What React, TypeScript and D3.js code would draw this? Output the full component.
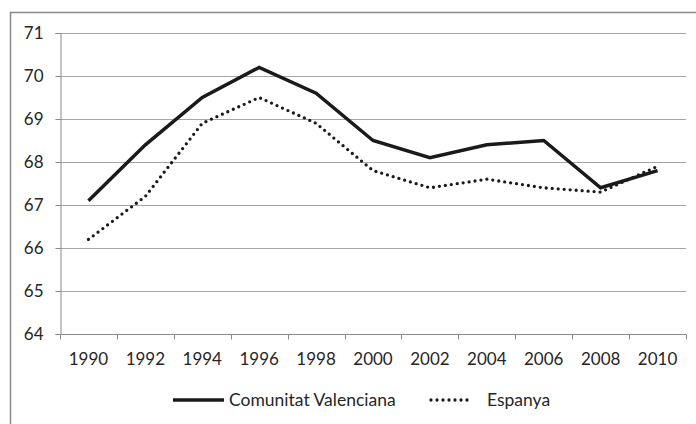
import React from "react";
import * as d3 from "d3";

const years = ["1990", "1992", "1994", "1996", "1998", "2000", "2002", "2004", "2006", "2008", "2010"];
const valenciana = [67.1, 68.4, 69.5, 70.2, 69.6, 68.5, 68.1, 68.4, 68.5, 67.4, 67.8];
const espanya = [66.2, 67.2, 68.9, 69.5, 68.9, 67.8, 67.4, 67.6, 67.4, 67.3, 67.9];
const yTicks = [64, 65, 66, 67, 68, 69, 70, 71];
const seriesNames = ["Comunitat Valenciana", "Espanya"];

const W = 696,
  H = 424;
const left = 60,
  right = 686,
  top = 33,
  bottom = 334;
const font = "Lato, 'Open Sans', sans-serif";

const App = () => {
  const ref = React.useRef<SVGSVGElement>(null);

  React.useEffect(() => {
    const svg = d3.select(ref.current);
    svg.selectAll("*").remove();

    const x = d3.scalePoint().domain(years).range([left, right]).padding(0.5);
    const band = (right - left) / years.length;
    const y = d3.scaleLinear().domain([64, 71]).range([bottom, top]);

    // outer frame
    svg
      .append("rect")
      .attr("x", 10.5)
      .attr("y", 12.5)
      .attr("width", 800)
      .attr("height", 600)
      .attr("fill", "white")
      .attr("stroke", "#8a8a8a")
      .attr("stroke-width", 1.5);

    // gridlines
    svg
      .append("g")
      .selectAll("line")
      .data(yTicks.filter((d) => d !== 64))
      .join("line")
      .attr("x1", left)
      .attr("x2", right)
      .attr("y1", (d) => Math.round(y(d)) + 0.5)
      .attr("y2", (d) => Math.round(y(d)) + 0.5)
      .attr("stroke", "#a6a6a6")
      .attr("stroke-width", 1);

    // y axis
    const yAxis = svg
      .append("g")
      .attr("transform", `translate(${left + 0.5},0)`)
      .call(d3.axisLeft(y).tickValues(yTicks).tickSize(5).tickPadding(12).tickFormat(d3.format("d")));
    yAxis.select(".domain").attr("stroke", "#8a8a8a");
    yAxis.selectAll(".tick line").attr("stroke", "#8a8a8a");
    yAxis
      .selectAll(".tick text")
      .attr("font-family", font)
      .attr("font-size", 17)
      .attr("fill", "#262626");

    // x axis with ticks between categories
    const xg = svg.append("g").attr("transform", `translate(0,${bottom + 0.5})`);
    xg.append("line").attr("x1", left).attr("x2", right).attr("stroke", "#8a8a8a");
    xg.selectAll("line.t")
      .data(d3.range(years.length + 1))
      .join("line")
      .attr("class", "t")
      .attr("x1", (i) => Math.round(left + i * band) + 0.5)
      .attr("x2", (i) => Math.round(left + i * band) + 0.5)
      .attr("y1", 0)
      .attr("y2", 5)
      .attr("stroke", "#8a8a8a");
    xg.selectAll("text")
      .data(years)
      .join("text")
      .attr("x", (d) => x(d)!)
      .attr("y", 30.5)
      .attr("text-anchor", "middle")
      .attr("font-family", font)
      .attr("font-size", 17)
      .attr("fill", "#262626")
      .text((d) => d);

    const line = d3
      .line<number>()
      .x((_, i) => x(years[i])!)
      .y((d) => y(d));

    svg
      .append("path")
      .attr("d", line(espanya))
      .attr("fill", "none")
      .attr("stroke", "#1a1a1a")
      .attr("stroke-width", 3.3)
      .attr("stroke-linecap", "round")
      .attr("stroke-dasharray", "0 6");

    svg
      .append("path")
      .attr("d", line(valenciana))
      .attr("fill", "none")
      .attr("stroke", "#1a1a1a")
      .attr("stroke-width", 3.5)
      .attr("stroke-linejoin", "miter");

    // legend
    const lg = svg.append("g").attr("transform", "translate(0,400)");
    lg.append("line")
      .attr("x1", 173)
      .attr("x2", 224)
      .attr("stroke", "#1a1a1a")
      .attr("stroke-width", 3.5);
    lg.append("text")
      .attr("x", 229)
      .attr("y", 6)
      .attr("font-family", font)
      .attr("font-size", 17.5)
      .attr("fill", "#262626")
      .text(seriesNames[0]);
    lg.append("line")
      .attr("x1", 431)
      .attr("x2", 472)
      .attr("stroke", "#1a1a1a")
      .attr("stroke-width", 3.3)
      .attr("stroke-linecap", "round")
      .attr("stroke-dasharray", "0 6");
    lg.append("text")
      .attr("x", 487)
      .attr("y", 6)
      .attr("font-family", font)
      .attr("font-size", 17.5)
      .attr("fill", "#262626")
      .text(seriesNames[1]);
  }, []);

  return (
    <svg
      ref={ref}
      width={W}
      height={H}
      style={{ position: "absolute", left: 0, top: 0, background: "white" }}
    />
  );
};

export default App;
